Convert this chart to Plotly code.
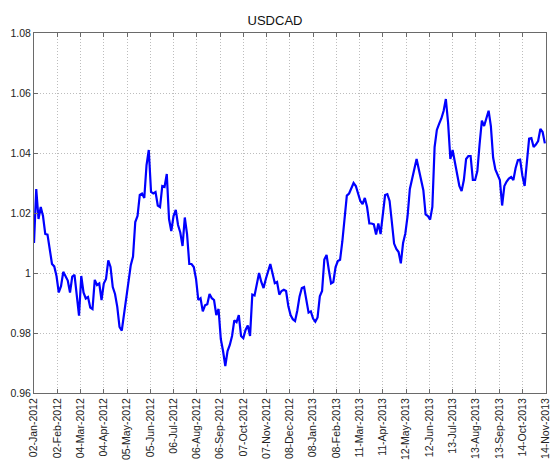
import pandas as pd
import plotly.graph_objects as go

start_date = "2012-01-02"
step = "3D"
usdcad = [
    1.010, 1.028, 1.018, 1.022, 1.019, 1.013, 1.0128, 1.0085, 1.003, 1.0022,
    0.999, 0.9935, 0.9956, 1.0004, 0.9989, 0.9975, 0.9935, 0.9988, 0.9994, 0.9935,
    0.9858, 0.999, 0.9935, 0.9915, 0.992, 0.9885, 0.988, 0.9977, 0.996, 0.9965,
    0.991, 0.9965, 0.998, 1.0042, 1.002, 0.9953, 0.993, 0.9887, 0.982, 0.9808,
    0.9862, 0.992, 0.998, 1.0026, 1.0055, 1.017, 1.019, 1.026, 1.0265, 1.025,
    1.036, 1.041, 1.027, 1.0265, 1.027, 1.0225, 1.022, 1.029, 1.0287, 1.033,
    1.018, 1.014, 1.019, 1.021, 1.016, 1.0135, 1.009, 1.0185, 1.013, 1.003,
    1.003, 1.002, 0.998, 0.991, 0.9916, 0.9872, 0.9892, 0.9896, 0.993, 0.9916,
    0.991, 0.986, 0.988, 0.978, 0.974, 0.969, 0.974, 0.976, 0.979, 0.9842,
    0.9836, 0.986, 0.979, 0.9783, 0.981, 0.9825, 0.979, 0.9928, 0.9925, 0.997,
    1.000, 0.997, 0.995, 0.998, 1.0008, 1.003, 0.9998, 0.9966, 0.997, 0.9928,
    0.994, 0.9944, 0.994, 0.989, 0.986, 0.9846, 0.984, 0.9875, 0.9922, 0.995,
    0.9953, 0.9915, 0.9868, 0.9872, 0.9848, 0.9838, 0.9852, 0.9922, 0.994, 1.0045,
    1.006, 1.001, 0.9965, 0.997, 1.002, 1.004, 1.0044, 1.0105, 1.019, 1.0258,
    1.0265, 1.028, 1.030, 1.029, 1.026, 1.024, 1.023, 1.025, 1.022, 1.0165,
    1.0165, 1.0162, 1.0128, 1.0165, 1.013, 1.019, 1.026, 1.0263, 1.024, 1.017,
    1.0098, 1.008, 1.007, 1.0032, 1.010, 1.0132, 1.019, 1.028, 1.031, 1.034,
    1.038, 1.0345, 1.031, 1.0276, 1.0195, 1.019, 1.0178, 1.022, 1.042, 1.0477,
    1.0497, 1.0515, 1.054, 1.058, 1.050, 1.038, 1.041, 1.0368, 1.0324, 1.029,
    1.0273, 1.031, 1.038, 1.039, 1.039, 1.031, 1.031, 1.034, 1.043, 1.0508,
    1.049, 1.052, 1.0541, 1.049, 1.0385, 1.0345, 1.033, 1.031, 1.0225, 1.029,
    1.0305, 1.0315, 1.032, 1.031, 1.035, 1.0376, 1.0378, 1.0325, 1.029, 1.036,
    1.0448, 1.045, 1.042, 1.0428, 1.044, 1.048, 1.047, 1.0432,
]
dates = pd.date_range(start_date, periods=len(usdcad), freq=step)

x_tick_labels = [
    "02-Jan-2012", "02-Feb-2012", "04-Mar-2012", "04-Apr-2012", "05-May-2012",
    "05-Jun-2012", "06-Jul-2012", "06-Aug-2012", "06-Sep-2012", "07-Oct-2012",
    "07-Nov-2012", "08-Dec-2012", "08-Jan-2013", "08-Feb-2013", "11-Mar-2013",
    "11-Apr-2013", "12-May-2013", "12-Jun-2013", "13-Jul-2013", "13-Aug-2013",
    "13-Sep-2013", "14-Oct-2013", "14-Nov-2013",
]
x_tick_vals = [pd.to_datetime(s, format="%d-%b-%Y") for s in x_tick_labels]
x_range = [pd.Timestamp("2012-01-02"), pd.Timestamp("2013-11-14 12:00")]
y_ticks = [0.96, 0.98, 1.00, 1.02, 1.04, 1.06, 1.08]
y_tick_labels = ["0.96", "0.98", "1", "1.02", "1.04", "1.06", "1.08"]

fig = go.Figure()
fig.add_trace(go.Scatter(
    x=dates, y=usdcad, mode="lines",
    line=dict(color="#0000ff", width=2.2),
    showlegend=False,
))

font_family = "Liberation Sans"
axis_common = dict(
    showline=True, linecolor="#6a6a6a", linewidth=1, mirror="ticks",
    ticks="inside", ticklen=4, tickcolor="#6a6a6a",
    showgrid=True, gridcolor="#bdbdbd", griddash="1px,2px", gridwidth=1,
    zeroline=False, automargin=False, ticklabeloverflow="allow",
    tickfont=dict(family=font_family, size=10.5, color="#222222"),
)

fig.update_layout(
    width=550, height=464,
    margin=dict(l=34, r=4, t=33, b=71),
    paper_bgcolor="white", plot_bgcolor="white",
    title=dict(text="USDCAD", x=0.5, xanchor="center", y=1 - 20 / 464, yanchor="middle",
               yref="container",
               font=dict(family=font_family, size=13, color="#111111")),
    xaxis=dict(
        range=x_range,
        tickmode="array", tickvals=x_tick_vals, ticktext=x_tick_labels,
        tickangle=-90,
        **axis_common,
    ),
    yaxis=dict(
        range=[0.96, 1.08],
        tickmode="array", tickvals=y_ticks, ticktext=y_tick_labels,
        **axis_common,
    ),
)

fig.write_html(
    "out.html",
    config={"displayModeBar": False},
    post_script="document.body.style.margin='0';document.body.style.overflow='hidden';",
)
